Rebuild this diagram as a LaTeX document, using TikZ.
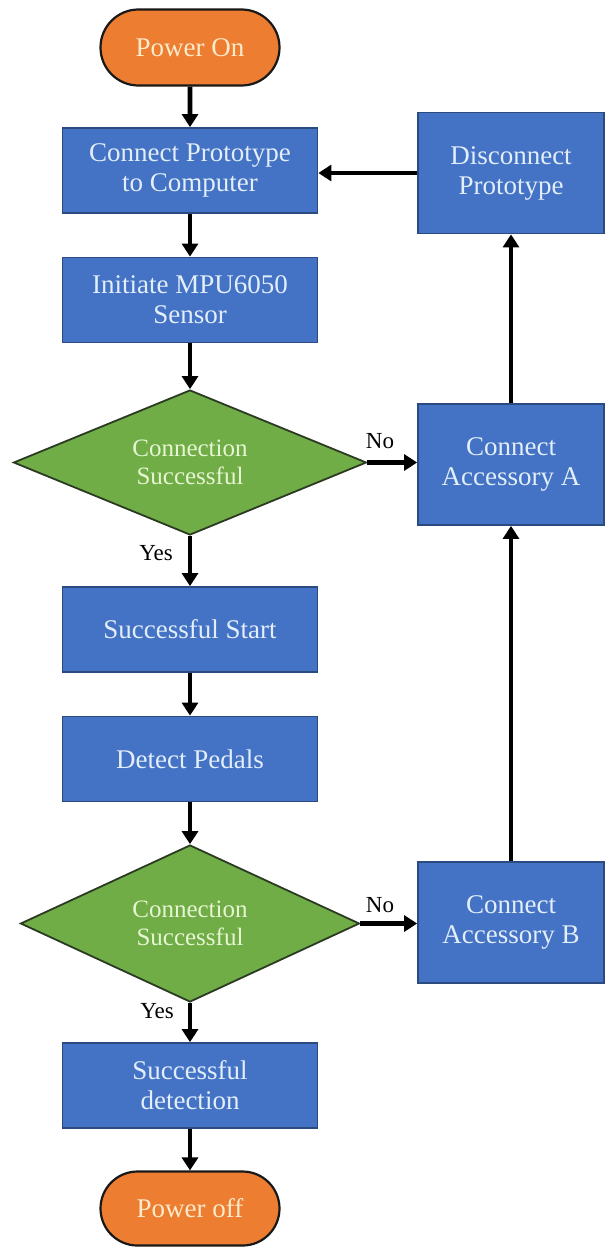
\documentclass[tikz,border=0pt]{standalone}
\usepackage{fontspec}
\setmainfont{Liberation Serif}
\usetikzlibrary{shapes.geometric,shapes.misc,arrows.meta}
\definecolor{termfill}{HTML}{ED7D31}
\definecolor{termtext}{HTML}{FCEBCB}
\definecolor{boxfill}{HTML}{4472C4}
\definecolor{boxline}{HTML}{2A4A80}
\definecolor{boxtext}{HTML}{E2EEF9}
\definecolor{decfill}{HTML}{70AD47}
\definecolor{decline}{HTML}{2B3A22}
\definecolor{dectext}{HTML}{E6F5D2}
\tikzset{
  term/.style={rounded rectangle, draw=black!90, line width=2.2pt, fill=termfill,
    text=termtext, minimum width=179pt, minimum height=76pt, inner sep=0pt,
    font=\fontsize{27}{29}\selectfont},
  procbox/.style={rectangle, draw=boxline, line width=1.8pt, fill=boxfill,
    text=boxtext, align=center, minimum width=255pt, minimum height=85pt, inner sep=0pt,
    font=\fontsize{27}{30}\selectfont},
  sidebox/.style={procbox, minimum width=186pt, minimum height=121pt},
  decision/.style={diamond, aspect=2.4, draw=decline, line width=1.8pt, fill=decfill,
    text=dectext, align=center, inner sep=0pt,
    font=\fontsize{25}{28}\selectfont},
  flow/.style={line width=4.8pt, -{Triangle[length=13pt,width=16pt]}},
  lbl/.style={font=\fontsize{23}{25}\selectfont, text=black, inner sep=0pt}
}
\begin{document}
\begin{tikzpicture}[x=1pt,y=-1pt]
\useasboundingbox (0,0) rectangle (605,1247);
\node[term] (pon) at (190,47.5) {Power On};
\node[procbox] (cpc) at (190,170.5) {Connect Prototype\\to Computer};
\node[procbox] (imp) at (190,300) {Initiate MPU6050\\Sensor};
\node[decision, minimum width=353pt, minimum height=145pt] (d1) at (190,462.5) {Connection\\Successful};
\node[procbox] (ss) at (190,629.5) {Successful Start};
\node[procbox] (dp) at (190,759) {Detect Pedals};
\node[decision, minimum width=339pt, minimum height=157pt] (d2) at (190,923.5) {Connection\\Successful};
\node[procbox] (sd) at (190,1085.5) {Successful\\detection};
\node[term, minimum height=74pt] (poff) at (190,1208.5) {Power off};
\node[sidebox] (dis) at (511,173) {Disconnect\\Prototype};
\node[sidebox] (caa) at (511,464.5) {Connect\\Accessory A};
\node[sidebox] (cab) at (511,922.5) {Connect\\Accessory B};

\draw[flow] (pon) -- (cpc);
\draw[flow] (cpc) -- (imp);
\draw[flow] (imp) -- (d1);
\draw[flow] (d1) -- (ss);
\draw[flow] (ss) -- (dp);
\draw[flow] (dp) -- (d2);
\draw[flow] (d2) -- (sd);
\draw[flow] (sd) -- (poff);
\draw[flow] (d1.east) -- (d1.east -| caa.west);
\draw[flow] (d2.east) -- (d2.east -| cab.west);
\draw[flow] (cab) -- (caa);
\draw[flow] (caa) -- (dis);
\draw[flow] (dis.west) -- (dis.west -| cpc.east);

\node[lbl] (no1) at (380,441) {No};
\node[lbl] (no2) at (380,905) {No};
\node[lbl] (yes1) at (156,553) {Yes};
\node[lbl] (yes2) at (157,1011) {Yes};
\end{tikzpicture}
\end{document}
